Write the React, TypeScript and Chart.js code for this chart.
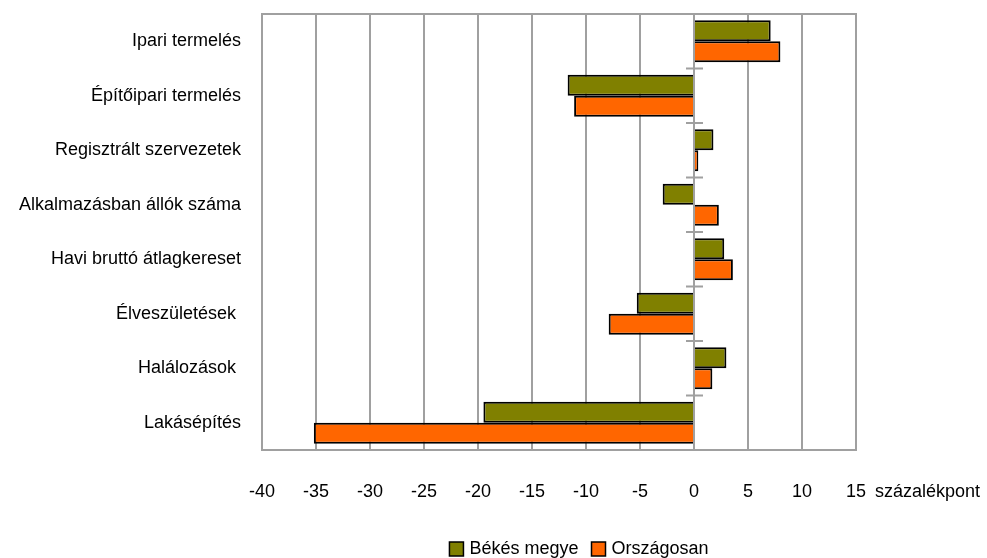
import { useEffect, useRef } from "react";
import { Chart, registerables } from "chart.js";

Chart.register(...registerables);

const categories = [
  "Ipari termelés",
  "Építőipari termelés",
  "Regisztrált szervezetek",
  "Alkalmazásban állók száma",
  "Havi bruttó átlagkereset",
  "Élveszületések ",
  "Halálozások ",
  "Lakásépítés",
];
const bekesValues = [7.1, -11.7, 1.8, -2.9, 2.8, -5.3, 3.0, -19.5];
const orszagosValues = [8.0, -11.1, 0.4, 2.3, 3.6, -7.9, 1.7, -35.2];
const seriesNames = ["Békés megye", "Országosan"];
const seriesColors = ["#808000", "#FF6600"];
const xMin = -40;
const xMax = 15;
const xStep = 5;
const unitLabel = "százalékpont";

const FONT = '"Liberation Sans", Arial, sans-serif';
const FONT_SIZE = 18;
const GRID = "#a0a0a0";

const decorPlugin = {
  id: "decor",
  beforeDatasetsDraw(chart: any) {
    const { ctx, chartArea } = chart;
    ctx.save();
    ctx.strokeStyle = GRID;
    ctx.lineWidth = 2;
    ctx.beginPath();
    ctx.moveTo(chartArea.left, chartArea.top);
    ctx.lineTo(chartArea.right, chartArea.top);
    ctx.lineTo(chartArea.right, chartArea.bottom);
    ctx.stroke();
    ctx.restore();
  },
  afterDatasetsDraw(chart: any) {
    const { ctx, chartArea, scales } = chart;
    const x0 = scales.x.getPixelForValue(0);
    ctx.save();
    ctx.strokeStyle = GRID;
    ctx.lineWidth = 2;
    ctx.beginPath();
    ctx.moveTo(x0, chartArea.top);
    ctx.lineTo(x0, chartArea.bottom);
    const n = categories.length;
    const band = (chartArea.bottom - chartArea.top) / n;
    for (let k = 1; k <= n; k++) {
      const y = chartArea.top + k * band;
      ctx.moveTo(x0 - 8, y);
      ctx.lineTo(x0 + 9, y);
    }
    ctx.stroke();
    ctx.restore();
  },
  afterDraw(chart: any) {
    const { ctx, chartArea } = chart;
    ctx.save();
    ctx.font = `${FONT_SIZE}px ${FONT}`;
    ctx.fillStyle = "#000";
    ctx.textBaseline = "middle";
    ctx.textAlign = "left";
    ctx.fillText(unitLabel, chartArea.right + 19, 492);

    // legend
    const box = 14;
    const gapBoxText = 6;
    const gapItems = 13;
    const widths = seriesNames.map((s) => ctx.measureText(s).width);
    const total = widths.reduce((a, w) => a + box + gapBoxText + w, 0) + gapItems;
    let x = 579 - total / 2;
    const yC = 549;
    seriesNames.forEach((name, i) => {
      ctx.fillStyle = seriesColors[i];
      ctx.fillRect(x, yC - box / 2, box, box);
      ctx.strokeStyle = "#000";
      ctx.lineWidth = 1.5;
      ctx.strokeRect(x, yC - box / 2, box, box);
      ctx.fillStyle = "#000";
      ctx.fillText(name, x + box + gapBoxText, yC);
      x += box + gapBoxText + widths[i] + gapItems;
    });
    ctx.restore();
  },
};

export default function App() {
  const ref = useRef<HTMLCanvasElement | null>(null);
  useEffect(() => {
    if (!ref.current) return;
    const chart = new Chart(ref.current, {
      type: "bar",
      data: {
        labels: categories,
        datasets: [
          {
            label: seriesNames[0],
            data: bekesValues,
            backgroundColor: seriesColors[0],
            borderColor: "#000",
            borderWidth: 2,
            categoryPercentage: 0.77,
            barPercentage: 1,
          },
          {
            label: seriesNames[1],
            data: orszagosValues,
            backgroundColor: seriesColors[1],
            borderColor: "#000",
            borderWidth: 2,
            categoryPercentage: 0.77,
            barPercentage: 1,
          },
        ],
      },
      options: {
        indexAxis: "y",
        animation: false,
        responsive: false,
        maintainAspectRatio: false,
        layout: { padding: { top: 14, right: 131, left: 0, bottom: 0 } },
        plugins: {
          legend: { display: false },
          tooltip: { enabled: false },
        },
        scales: {
          x: {
            min: xMin,
            max: xMax,
            grid: { color: GRID, lineWidth: 2, drawTicks: false },
            border: { display: true, color: GRID, width: 2 },
            ticks: {
              stepSize: xStep,
              color: "#000",
              font: { family: FONT, size: FONT_SIZE },
              padding: 31,
              maxRotation: 0,
              autoSkip: false,
            },
            afterFit(scale: any) {
              scale.height = 108;
              scale.paddingLeft = 0;
              scale.paddingRight = 0;
            },
          },
          y: {
            grid: { display: false, drawTicks: false },
            border: { display: true, color: GRID, width: 2 },
            ticks: {
              color: "#000",
              font: { family: FONT, size: FONT_SIZE },
              padding: 21,
              autoSkip: false,
            },
            afterFit(scale: any) {
              scale.width = 262;
              scale.paddingTop = 0;
              scale.paddingBottom = 0;
            },
          },
        },
      },
      plugins: [decorPlugin],
    });
    return () => chart.destroy();
  }, []);
  return (
    <div style={{ position: "fixed", left: 0, top: 0, width: 987, height: 558, background: "#fff" }}>
      <canvas ref={ref} width={987} height={558} />
    </div>
  );
}
